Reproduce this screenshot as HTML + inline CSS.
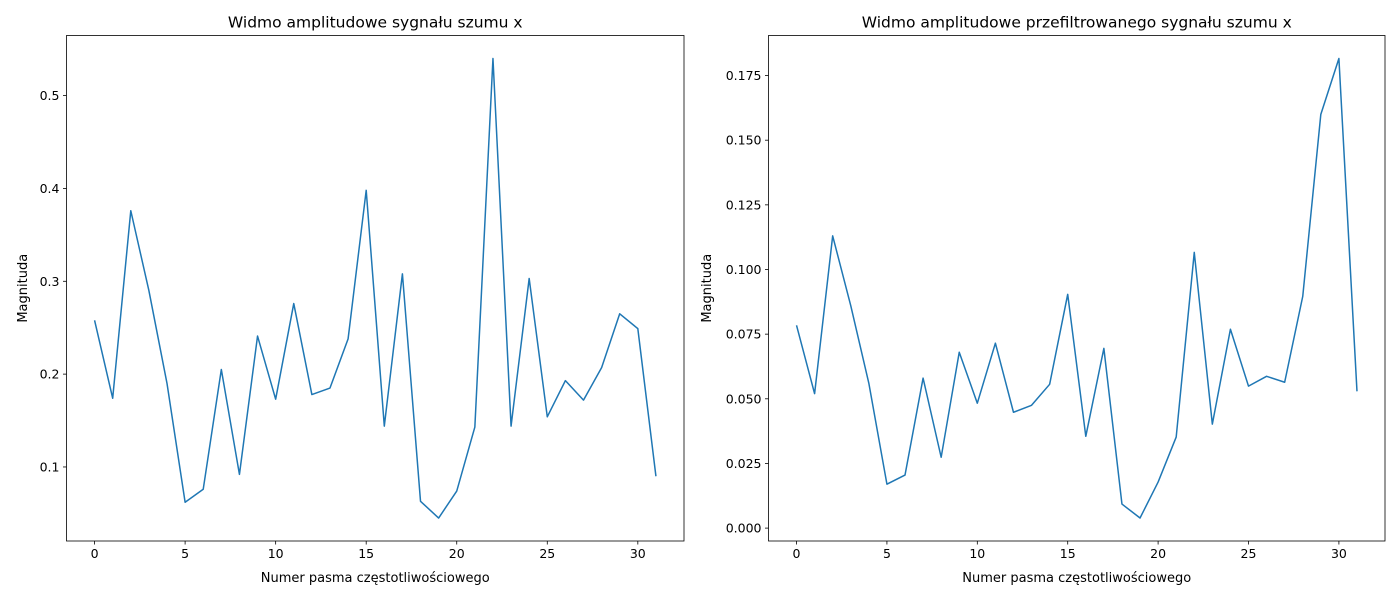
<!DOCTYPE html>
<html><head><meta charset="utf-8"><style>
body{margin:0;background:#fff;}
svg{display:block;font-family:"DejaVu Sans","Liberation Sans",sans-serif;}
</style></head><body>
<svg id="chart" width="1400" height="600" xmlns="http://www.w3.org/2000/svg"></svg>
<script>
const bands = Array.from({length:32},(_,i)=>i);
const leftValues = [0.258,0.174,0.376,0.290,0.190,0.062,0.076,0.205,0.092,0.241,0.173,0.276,0.178,0.185,0.238,0.398,0.144,0.308,0.063,0.045,0.074,0.143,0.540,0.144,0.303,0.154,0.193,0.172,0.207,0.265,0.249,0.090];
const rightValues = [0.0784,0.052,0.113,0.086,0.056,0.017,0.0205,0.058,0.0274,0.068,0.0483,0.0715,0.0448,0.0475,0.0556,0.0904,0.0355,0.0695,0.0093,0.0039,0.0178,0.0352,0.1066,0.0402,0.0769,0.0549,0.0587,0.0564,0.0896,0.160,0.1816,0.0529];
const xTicks = [0,5,10,15,20,25,30];
const leftYTicks = [0.1,0.2,0.3,0.4,0.5];
const rightYTicks = [0,0.025,0.05,0.075,0.1,0.125,0.15,0.175];
const leftTitle = "Widmo amplitudowe sygnału szumu x";
const rightTitle = "Widmo amplitudowe przefiltrowanego sygnału szumu x";

const NS="http://www.w3.org/2000/svg";
const svg=document.getElementById('chart');
function mk(tag,attrs,parent){const e=document.createElementNS(NS,tag);for(const k in attrs)e.setAttribute(k,attrs[k]);(parent||svg).appendChild(e);return e;}

function panel(x0,x1,y0,y1,vals,yTicks,yDec,title,prefix){
  const g=mk('g',{});
  
  
  const n=vals.length;
  const xmin=-0.05*(n-1)-0.0,xmax=(n-1)*1.05;
  const xm=-1.55,xM=32.55;
  const vmin=Math.min(...vals),vmax=Math.max(...vals),pad=(vmax-vmin)*0.05;
  const ymin=vmin-pad,ymax=vmax+pad;
  const sx=v=>x0+(v-xm)/(xM-xm)*(x1-x0);
  const sy=v=>y1-(v-ymin)/(ymax-ymin)*(y1-y0);
  const pts=vals.map((v,i)=>sx(bands[i]).toFixed(2)+','+sy(v).toFixed(2)).join(' ');
  const line=mk('polyline',{points:pts,fill:'none',stroke:'#1f77b4','stroke-width':1.5,'stroke-linejoin':'round'},g);
  
  
  const frame=mk('rect',{x:x0,y:y0,width:x1-x0,height:y1-y0,fill:'none',stroke:'#000','stroke-width':0.8},g);
  
  
  xTicks.forEach(t=>{const x=sx(t);
    mk('line',{x1:x,x2:x,y1:y1,y2:y1+3.5,stroke:'#000','stroke-width':0.8},g);
    const tx=mk('text',{x:x,y:y1+17,'text-anchor':'middle','font-size':'12.5px'},g);tx.textContent=t;
    
    
  });
  yTicks.forEach(t=>{const y=sy(t);
    mk('line',{x1:x0,x2:x0-3.5,y1:y,y2:y,stroke:'#000','stroke-width':0.8},g);
    const tx=mk('text',{x:x0-7,y:y+4.5,'text-anchor':'end','font-size':'12.5px'},g);tx.textContent=t.toFixed(yDec);
    
    
  });
  const tt=mk('text',{x:(x0+x1)/2,y:y0-8,'text-anchor':'middle','font-size':'15.5px'},g);tt.textContent=title;
  
  
  const xl=mk('text',{x:(x0+x1)/2,y:y1+41,'text-anchor':'middle','font-size':'13px'},g);xl.textContent='Numer pasma częstotliwościowego';
  
  
  const yx=prefix==='left'?27:711, ym=(y0+y1)/2;
  const yl=mk('text',{x:yx,y:ym,'text-anchor':'middle','font-size':'13px',transform:`rotate(-90 ${yx} ${ym})`},g);yl.textContent='Magnituda';
  
  
}
panel(66.5,684,35.5,541,leftValues,leftYTicks,1,leftTitle,'left');
panel(768.5,1385,35.5,541,rightValues,rightYTicks,3,rightTitle,'right');
</script>
</body></html>
